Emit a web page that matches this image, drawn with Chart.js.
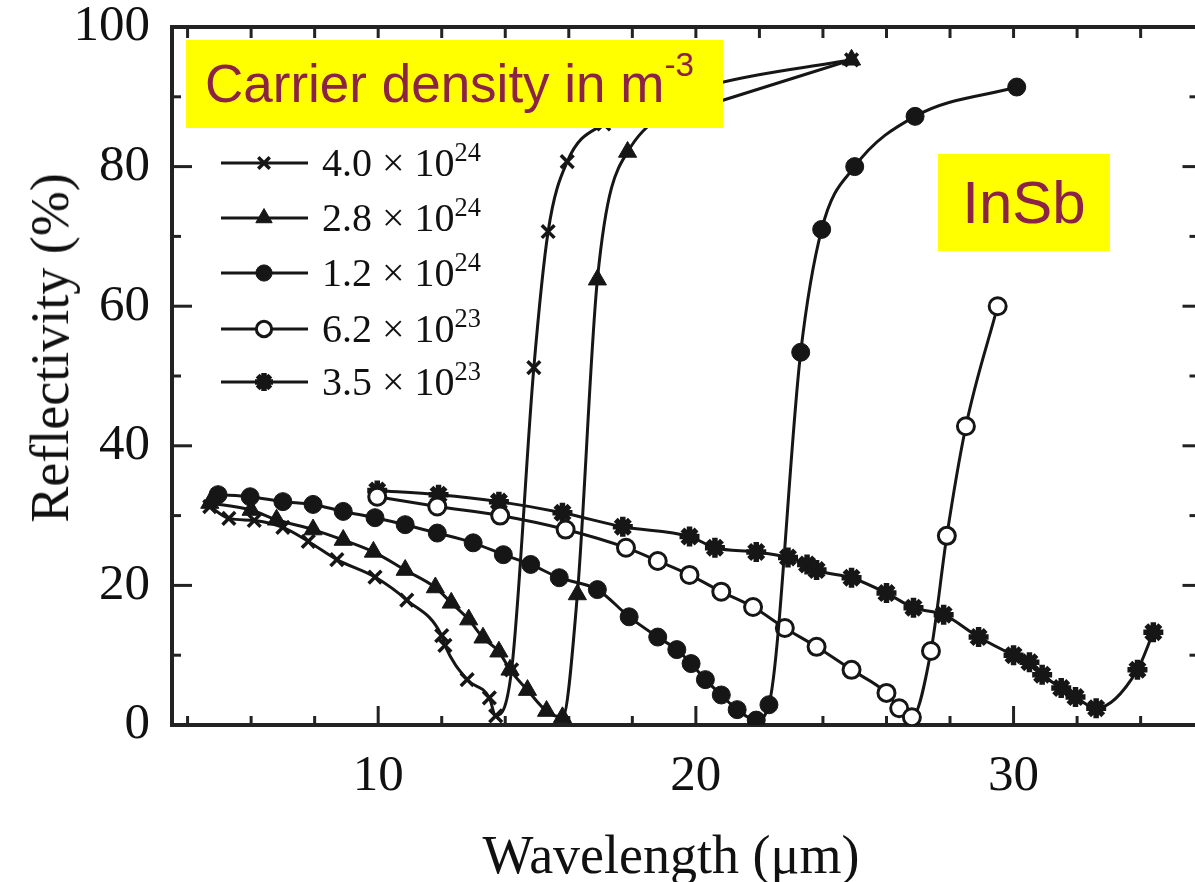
<!DOCTYPE html>
<html>
<head>
<meta charset="utf-8">
<script src="https://cdn.jsdelivr.net/npm/chart.js@4.4.1/dist/chart.umd.min.js"></script>
<style>
html, body { margin: 0; padding: 0; background: #fff; overflow: hidden; }
#wrap { position: relative; width: 1195px; height: 882px; overflow: hidden; }
#myChart { position: absolute; left: 0; top: 0; }
.box { position: absolute; background: #ffff00; color: #8b2346; font-family: "Liberation Sans", Arial, sans-serif; white-space: nowrap; }
.box sup { font-size: 0.62em; vertical-align: 0; position: relative; top: -0.8em; }
.leg { position: absolute; left: 322px; font-family: "Liberation Serif", "Times New Roman", serif; font-size: 40px; color: #111; white-space: nowrap; transform: translateY(-50%); line-height: 1; }
.leg sup { font-size: 0.66em; vertical-align: 0; position: relative; top: -0.55em; }
.axt { position: absolute; font-family: "Liberation Serif", "Times New Roman", serif; font-size: 54px; color: #111; white-space: nowrap; line-height: 1; }
</style>
</head>
<body>
<div id="wrap">
<canvas id="myChart" width="1213" height="882" style="width:1213px;height:882px"></canvas>

<div class="box" style="left:186px;top:40px;width:537px;height:88px;font-size:53px;line-height:88px;padding-left:19px;box-sizing:border-box;">Carrier density in m<sup>-3</sup></div>
<div class="box" style="left:938px;top:154px;width:172px;height:97px;font-size:60px;line-height:97px;text-align:center;">InSb</div>

<div class="leg" style="top:163px">4.0 × 10<sup>24</sup></div>
<div class="leg" style="top:218px">2.8 × 10<sup>24</sup></div>
<div class="leg" style="top:273px">1.2 × 10<sup>24</sup></div>
<div class="leg" style="top:329px">6.2 × 10<sup>23</sup></div>
<div class="leg" style="top:382px">3.5 × 10<sup>23</sup></div>

<div class="axt" style="left:50px;top:348px;transform:translate(-50%,-50%) rotate(-90deg);">Reflectivity (%)</div>
<div class="axt" style="left:671px;top:855px;transform:translate(-50%,-50%);">Wavelength (μm)</div>
</div>

<script>
// Données (longueur d'onde en µm, réflectivité en %)

const xTickLabels = [10, 20, 30];
const yTickLabels = [0, 20, 40, 60, 80, 100];
const xMinorTicks = [4, 6, 8, 12, 14, 16, 18, 22, 24, 26, 28, 32, 34];
const yMinorTicks = [10, 30, 50, 70, 90];

// 4.0 x 10^24
const lambda40 = [4.7, 5.3, 6.1, 7.0, 7.8, 8.7, 9.9, 10.9, 12.0, 12.1, 12.8, 13.5, 13.7, 14.2, 14.9, 15.35, 15.95, 17.1, 20.5, 24.9];
const refl40   = [31.3, 29.6, 29.3, 28.3, 26.3, 23.7, 21.2, 17.9, 12.8, 11.4, 6.5, 3.9, 1.3, 7.9, 51.2, 70.7, 80.7, 86.1, 91.7, 95.3];

// 2.8 x 10^24
const lambda28 = [4.7, 6.0, 6.8, 7.95, 8.9, 9.85, 10.85, 11.8, 12.3, 12.85, 13.3, 13.8, 14.15, 14.7, 15.3, 15.8, 16.27, 16.9, 17.85, 20.5, 24.9];
const refl28   = [31.8, 30.8, 29.4, 28.0, 26.5, 24.8, 22.2, 19.7, 17.5, 15.1, 12.5, 10.5, 7.9, 5.0, 2.0, 1.1, 18.7, 63.8, 82.1, 89.0, 95.3];

// 1.2 x 10^24
const lambda12 = [4.96, 5.97, 7.0, 7.95, 8.9, 9.9, 10.85, 11.86, 12.99, 13.94, 14.8, 15.7, 16.9, 17.9, 18.8, 19.4, 19.85, 20.3, 20.8, 21.3, 21.9, 22.3, 23.3, 23.96, 25.0, 26.9, 30.1];
const refl12   = [33.0, 32.7, 32.0, 31.6, 30.6, 29.7, 28.7, 27.5, 26.1, 24.4, 23.0, 21.1, 19.4, 15.5, 12.6, 10.8, 8.8, 6.5, 4.3, 2.2, 0.7, 2.9, 53.4, 71.0, 80.0, 87.2, 91.4];

// 6.2 x 10^23
const lambda62 = [9.97, 11.86, 13.84, 15.9, 17.8, 18.8, 19.8, 20.8, 21.8, 22.8, 23.8, 24.9, 26.0, 26.4, 26.8, 27.4, 27.9, 28.5, 29.5];
const refl62   = [32.7, 31.3, 30.0, 28.0, 25.4, 23.5, 21.5, 19.1, 16.9, 13.9, 11.2, 7.9, 4.6, 2.4, 1.1, 10.6, 27.1, 42.8, 60.0];

// 3.5 x 10^23
const lambda35 = [9.97, 11.9, 13.8, 15.8, 17.7, 19.8, 20.6, 21.9, 22.9, 23.5, 23.8, 24.9, 26.0, 26.85, 27.8, 28.9, 30.0, 30.5, 30.9, 31.5, 31.95, 32.6, 33.9, 34.4];
const refl35   = [33.6, 33.0, 32.0, 30.4, 28.4, 27.0, 25.4, 24.8, 24.0, 23.0, 22.2, 21.1, 18.9, 16.8, 15.8, 12.6, 10.0, 9.0, 7.2, 5.3, 4.0, 2.4, 7.9, 13.3];

const ink = '#161616';

function pts(xs, ys) {
    return xs.map((v, i) => ({ x: v, y: ys[i] }));
}

function serie(label, xs, ys, style, extra) {
    return Object.assign({
        label: label,
        data: pts(xs, ys),
        showLine: true,
        borderColor: ink,
        backgroundColor: ink,
        borderWidth: 3,
        pointStyle: style,
        pointRadius: 8,
        pointBorderWidth: 3,
        pointBorderColor: ink,
        pointBackgroundColor: ink,
        cubicInterpolationMode: 'monotone',
    }, extra || {});
}

const data = {
    datasets: [
        serie('4.0 × 10^24', lambda40, refl40, 'crossRot', { pointRadius: 9, pointBorderWidth: 3.5 }),
        serie('2.8 × 10^24', lambda28, refl28, 'triangle', { pointRadius: 10.5, pointBorderWidth: 1 }),
        serie('1.2 × 10^24', lambda12, refl12, 'circle', { pointRadius: 9, pointBorderWidth: 1 }),
        serie('6.2 × 10^23', lambda62, refl62, 'circle', { pointRadius: 8.5, pointBorderWidth: 3, pointBackgroundColor: '#fff' }),
        serie('3.5 × 10^23', lambda35, refl35, 'star', { pointRadius: 10, pointBorderWidth: 5.5 }),
    ]
};

// cadre + graduations tournées vers l'intérieur
const cadre = {
    id: 'cadre',
    beforeDatasetsDraw(chart) {
        const { ctx, chartArea: a, scales: { x, y } } = chart;
        ctx.save();
        ctx.strokeStyle = '#222';
        ctx.lineCap = 'butt';
        ctx.lineWidth = 3;
        const vtick = (px, y0, len) => { ctx.beginPath(); ctx.moveTo(px, y0); ctx.lineTo(px, y0 + len); ctx.stroke(); };
        const htick = (py, x0, len) => { ctx.beginPath(); ctx.moveTo(x0, py); ctx.lineTo(x0 + len, py); ctx.stroke(); };
        xTickLabels.forEach(v => { const p = x.getPixelForValue(v); vtick(p, a.bottom, -19); vtick(p, a.top, 11); });
        xMinorTicks.forEach(v => { const p = x.getPixelForValue(v); vtick(p, a.bottom, -9); vtick(p, a.top, 11); });
        yTickLabels.forEach(v => { const p = y.getPixelForValue(v); htick(p, a.left, 20); htick(p, a.right, -15); });
        yMinorTicks.forEach(v => { const p = y.getPixelForValue(v); htick(p, a.left, 9); htick(p, a.right, -8); });
        ctx.lineWidth = 4;
        ctx.strokeRect(a.left, a.top, a.right - a.left, a.bottom - a.top);
        ctx.restore();
    }
};

// échantillons de la légende (le texte est en HTML)
const legendeRows = [163, 218, 273, 329, 382];
const legende = {
    id: 'legende',
    afterDatasetsDraw(chart) {
        const ctx = chart.ctx;
        ctx.save();
        chart.data.datasets.forEach((ds, i) => {
            const yy = legendeRows[i];
            ctx.strokeStyle = ink;
            ctx.lineWidth = 3;
            ctx.beginPath();
            ctx.moveTo(221, yy);
            ctx.lineTo(308, yy);
            ctx.stroke();
            ctx.fillStyle = ds.pointBackgroundColor;
            ctx.strokeStyle = ink;
            ctx.lineWidth = ds.pointBorderWidth;
            Chart.helpers.drawPoint(ctx, { pointStyle: ds.pointStyle, radius: ds.pointRadius * 0.9, borderWidth: ds.pointBorderWidth, rotation: 0 }, 264, yy);
        });
        ctx.restore();
    }
};

const tickFont = { family: '"Liberation Serif", "Times New Roman", serif', size: 51, lineHeight: 1.2 };

const config = {
    type: 'scatter',
    data: data,
    options: {
        responsive: false,
        animation: false,
        layout: { padding: { top: 27, right: 3, left: 0, bottom: 0 } },
        scales: {
            x: {
                type: 'linear',
                min: 3.51,
                max: 35.79,
                afterBuildTicks: s => { s.ticks = xTickLabels.map(v => ({ value: v })); },
                afterFit: s => { s.height = 157; s.paddingLeft = 0; s.paddingRight = 0; },
                grid: { display: false, drawTicks: false },
                border: { display: false },
                ticks: { font: tickFont, color: '#111', padding: 21, maxRotation: 0 },
            },
            y: {
                type: 'linear',
                min: 0,
                max: 100,
                afterBuildTicks: s => { s.ticks = yTickLabels.map(v => ({ value: v })); },
                afterFit: s => { s.width = 172; s.paddingTop = 0; s.paddingBottom = 0; },
                grid: { display: false, drawTicks: false },
                border: { display: false },
                ticks: { font: tickFont, color: '#111', padding: 22 },
            },
        },
        plugins: {
            legend: { display: false },
            tooltip: { enabled: false },
        }
    },
    plugins: [cadre, legende],
};

var myChart = new Chart(
    document.getElementById('myChart'),
    config
);
</script>
</body>
</html>
